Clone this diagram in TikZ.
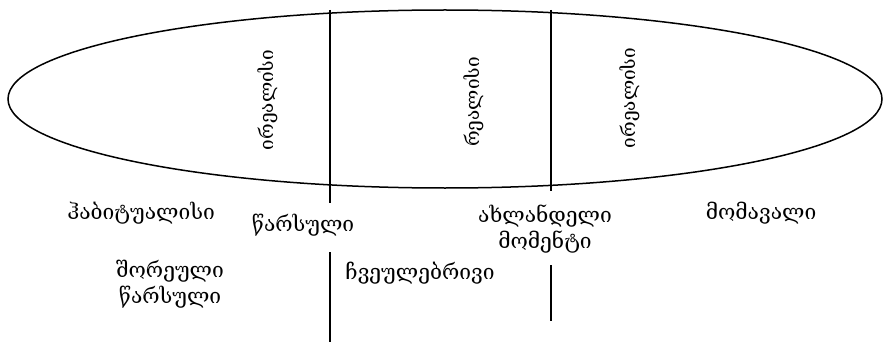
\documentclass[tikz,border=0pt]{standalone}
\usepackage{fontspec}
\setmainfont{DejaVu Serif}
\begin{document}
\begin{tikzpicture}[x=1pt,y=-1pt,
  lbl/.style={font=\fontsize{21}{26}\selectfont, align=center, inner sep=0pt},
  vlbl/.style={lbl, font=\fontsize{19}{24}\selectfont, rotate=90},
  ln/.style={line width=1.5pt}]
\useasboundingbox (0,0) rectangle (885,342);
\draw[ln] (445,99) ellipse [x radius=437, y radius=89];
\coordinate (l1t) at (330,10);
\coordinate (l1m) at (330,203);
\coordinate (l1b) at (330,252);
\coordinate (l1e) at (330,342);
\coordinate (l2t) at (551,10);
\coordinate (l2m) at (551,191);
\coordinate (l2b) at (551,265);
\coordinate (l2e) at (551,321);
\draw[ln] (l1t) -- (l1m);
\draw[ln] (l1b) -- (l1e);
\draw[ln] (l2t) -- (l2m);
\draw[ln] (l2b) -- (l2e);
\node[vlbl] (irr1) at (268,100) {ირეალისი};
\node[vlbl] (real) at (474,102) {რეალისი};
\node[vlbl] (irr2) at (630,98) {ირეალისი};
\node[lbl] (hab) at (141,213) {ჰაბიტუალისი};
\node[lbl] (past) at (303,225) {წარსული};
\node[lbl] (remote) at (170,284) {შორეული\\წარსული};
\node[lbl] (ord) at (420,273) {ჩვეულებრივი};
\node[lbl] (now) at (545,229) {ახლანდელი\\მომენტი};
\node[lbl] (fut) at (761,213) {მომავალი};
\end{tikzpicture}
\end{document}
